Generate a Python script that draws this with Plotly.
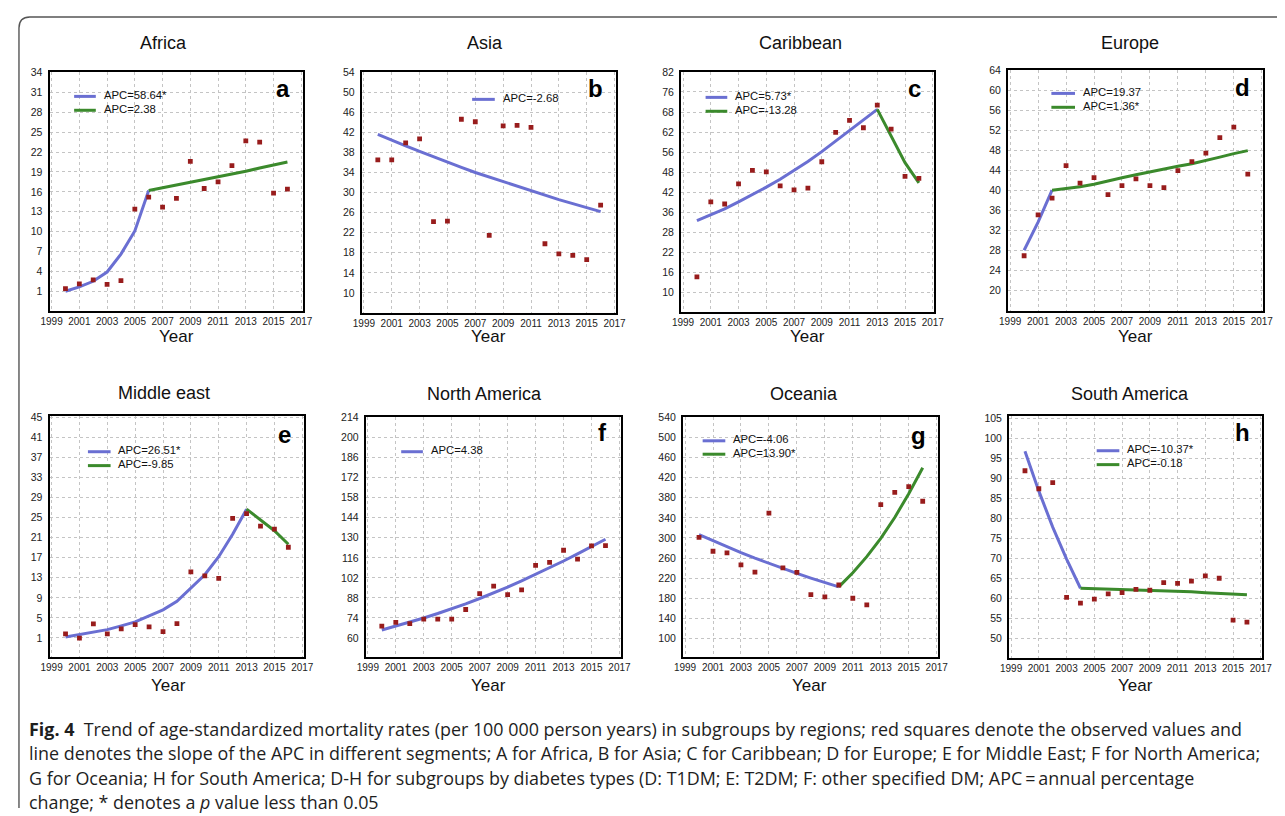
import plotly.graph_objects as go

# ---------------- data ----------------
years = list(range(2000, 2017))
x_ticks = [1999, 2001, 2003, 2005, 2007, 2009, 2011, 2013, 2015, 2017]

titles = ["Africa", "Asia", "Caribbean", "Europe",
          "Middle east", "North America", "Oceania", "South America"]
letters = ["a", "b", "c", "d", "e", "f", "g", "h"]

africa_obs = [1.4, 2.1, 2.7, 2.05, 2.6, 13.4, 15.2, 13.7, 15.0, 20.6, 16.5, 17.5, 19.95, 23.7, 23.5, 15.8, 16.4]
africa_seg1_years = [2000, 2001, 2002, 2003, 2004, 2005, 2006]
africa_seg1 = [1.0, 1.65, 2.5, 3.9, 6.6, 10.1, 16.2]
africa_seg2_years = [2006, 2007, 2008, 2009, 2010, 2011, 2012, 2013, 2014, 2015, 2016]
africa_seg2 = [16.2, 16.6, 17.0, 17.45, 17.85, 18.3, 18.7, 19.1, 19.6, 20.1, 20.5]
africa_apc = ["APC=58.64*", "APC=2.38"]
africa_yticks = [1, 4, 7, 10, 13, 16, 19, 22, 25, 28, 31, 34]

asia_obs = [36.5, 36.5, 39.9, 40.7, 24.2, 24.3, 44.6, 44.1, 21.45, 43.3, 43.4, 43.0, 19.8, 17.8, 17.5, 16.65, 27.5]
asia_seg1_years = years
asia_seg1 = [41.6, 40.4, 39.3, 38.2, 37.1, 36.0, 35.0, 34.0, 33.1, 32.1, 31.2, 30.3, 29.5, 28.6, 27.8, 27.0, 26.2]
asia_apc = ["APC=-2.68"]
asia_yticks = [10, 14, 18, 22, 26, 30, 34, 38, 42, 46, 50, 54]

carib_obs = [15.1, 39.6, 38.9, 45.5, 49.85, 49.4, 44.8, 43.5, 44.1, 52.7, 62.3, 66.2, 63.8, 71.2, 63.35, 47.9, 47.3]
carib_seg1_years = [2000, 2001, 2002, 2003, 2004, 2005, 2006, 2007, 2008, 2009, 2010, 2011, 2012, 2013]
carib_seg1 = [33.5, 35.3, 37.3, 39.6, 41.9, 44.4, 47.0, 49.8, 52.8, 56.0, 59.4, 63.0, 66.4, 69.8]
carib_seg2_years = [2013, 2014, 2015, 2016]
carib_seg2 = [69.8, 61.0, 52.4, 45.8]
carib_apc = ["APC=5.73*", "APC=-13.28"]
carib_ytickvals = [10, 16.55, 23.1, 29.6, 36.2, 42.7, 49.3, 55.8, 62.4, 68.9, 75.5, 82]
carib_yticktext = ["10", "16", "22", "28", "36", "42", "48", "56", "62", "68", "76", "82"]

europe_obs = [26.9, 35.05, 38.4, 44.9, 41.4, 42.5, 39.1, 40.9, 42.25, 40.9, 40.5, 43.9, 45.7, 47.4, 50.5, 52.6, 43.2]
europe_seg1_years = [2000, 2001, 2002]
europe_seg1 = [28.0, 33.6, 40.0]
europe_seg2_years = list(range(2002, 2017))
europe_seg2 = [40.0, 40.3, 40.7, 41.2, 41.9, 42.5, 43.1, 43.7, 44.3, 44.8, 45.3, 45.9, 46.6, 47.3, 47.9]
europe_apc = ["APC=19.37", "APC=1.36*"]
europe_yticks = [20, 24, 28, 32, 36, 40, 44, 48, 52, 56, 60, 64]

mideast_obs = [1.8, 0.95, 3.8, 1.8, 2.8, 3.65, 3.2, 2.25, 3.85, 14.2, 13.4, 12.9, 24.85, 25.8, 23.3, 22.7, 19.1]
mideast_seg1_years = list(range(2000, 2014))
mideast_seg1 = [1.2, 1.65, 2.1, 2.65, 3.4, 4.2, 5.4, 6.6, 8.3, 10.9, 13.6, 17.2, 21.7, 26.7]
mideast_seg2_years = [2013, 2014, 2015, 2016]
mideast_seg2 = [26.7, 24.5, 22.4, 19.7]
mideast_apc = ["APC=26.51*", "APC=-9.85"]
mideast_yticks = [1, 5, 9, 13, 17, 21, 25, 29, 33, 37, 41, 45]

namerica_obs = [68.3, 70.9, 70.0, 73.2, 73.2, 73.2, 79.9, 91.0, 96.3, 90.3, 93.6, 110.7, 112.8, 121.3, 115.1, 124.4, 124.6]
namerica_seg1_years = years
namerica_seg1 = [65.6, 68.3, 71.1, 74.0, 77.1, 80.4, 83.9, 87.6, 91.5, 95.6, 99.9, 104.4, 109.0, 113.8, 118.8, 123.9, 129.0]
namerica_apc = ["APC=4.38"]
namerica_yticks = [60, 74, 88, 102, 116, 130, 144, 158, 172, 186, 200, 214]

oceania_obs = [301.2, 273.5, 270.2, 246.4, 231.9, 349.3, 240.5, 231.3, 187.1, 182.5, 206.2, 179.8, 166.6, 366.5, 390.9, 402.1, 373.1]
oceania_seg1_years = list(range(2000, 2011))
oceania_seg1 = [306.5, 294.1, 282.1, 270.7, 259.7, 249.1, 239.0, 229.3, 220.0, 211.1, 202.5]
oceania_seg2_years = list(range(2010, 2017))
oceania_seg2 = [202.5, 230.6, 262.7, 299.2, 340.8, 388.2, 440.0]
oceania_apc = ["APC=-4.06", "APC=13.90*"]
oceania_yticks = [100, 140, 180, 220, 260, 300, 340, 380, 420, 460, 500, 540]

samerica_obs = [91.9, 87.4, 88.95, 60.2, 58.8, 59.8, 61.1, 61.4, 62.2, 62.0, 63.9, 63.7, 64.3, 65.6, 65.0, 54.5, 54.0]
samerica_seg1_years = [2000, 2001, 2002, 2003, 2004]
samerica_seg1 = [96.8, 86.8, 77.8, 69.8, 62.5]
samerica_seg2_years = list(range(2004, 2017))
samerica_seg2 = [62.5, 62.4, 62.2, 62.1, 62.0, 61.9, 61.8, 61.7, 61.6, 61.4, 61.2, 61.0, 60.9]
samerica_apc = ["APC=-10.37*", "APC=-0.18"]
samerica_yticks = [50, 55, 60, 65, 70, 75, 80, 85, 90, 95, 100, 105]

caption_lines = [
    "<b>Fig. 4</b>  Trend of age-standardized mortality rates (per 100 000 person years) in subgroups by regions; red squares denote the observed values and",
    "line denotes the slope of the APC in different segments; A for Africa, B for Asia; C for Caribbean; D for Europe; E for Middle East; F for North America;",
    "G for Oceania; H for South America; D-H for subgroups by diabetes types (D: T1DM; E: T2DM; F: other specified DM; APC\u2009=\u2009annual percentage",
    "change; * denotes a <i>p</i> value less than 0.05",
]

# ---------------- styling / layout ----------------
# the page body keeps an 8 px margin, so the figure is 8 px smaller and
# every page-pixel position is shifted by that margin
OFF = 8
W, H = 1285 - OFF, 816 - OFF

BLUE = "#6a6fd2"
GREEN = "#3b8a2c"
RED = "#981c1c"
FONT = "Liberation Sans, Arial, sans-serif"

panels = [
    dict(obs=africa_obs, segs=[(africa_seg1_years, africa_seg1), (africa_seg2_years, africa_seg2)],
         apc=africa_apc, yticks=africa_yticks, ytext=None, yrange=[-1.95, 34.15],
         box=(41, 298, 66, 307), leg=(66, 88, 91, 14), letter=(287, 83), title=(157, 37), year=(170, 333)),
    dict(obs=asia_obs, segs=[(asia_seg1_years, asia_seg1)],
         apc=asia_apc, yticks=asia_yticks, ytext=None, yrange=[6.05, 54.1],
         box=(358, 616, 66, 309), leg=(470, 493, 94, 14), letter=(605, 83), title=(483, 37), year=(487, 333)),
    dict(obs=carib_obs, segs=[(carib_seg1_years, carib_seg1), (carib_seg2_years, carib_seg2)],
         apc=carib_apc, yticks=carib_ytickvals, ytext=carib_yticktext, yrange=[3.7, 82.15],
         box=(682, 939, 66, 308), leg=(707, 729, 92, 14), letter=(928, 83), title=(803, 37), year=(810, 333)),
    dict(obs=europe_obs, segs=[(europe_seg1_years, europe_seg1), (europe_seg2_years, europe_seg2)],
         apc=europe_apc, yticks=europe_yticks, ytext=None, yrange=[15.9, 64.1],
         box=(1014, 1273, 64, 307), leg=(1058, 1082, 88, 14), letter=(1262, 82), title=(1138, 37), year=(1143, 333)),
    dict(obs=mideast_obs, segs=[(mideast_seg1_years, mideast_seg1), (mideast_seg2_years, mideast_seg2)],
         apc=mideast_apc, yticks=mideast_yticks, ytext=None, yrange=[-2.85, 45.3],
         box=(41, 299, 413, 656), leg=(80, 103, 449, 14), letter=(288, 432), title=(157, 390), year=(162, 685)),
    dict(obs=namerica_obs, segs=[(namerica_seg1_years, namerica_seg1)],
         apc=namerica_apc, yticks=namerica_yticks, ytext=None, yrange=[46.6, 214.4],
         box=(362, 621, 414, 656), leg=(398, 420, 449, 14), letter=(609, 430), title=(483, 391), year=(487, 685)),
    dict(obs=oceania_obs, segs=[(oceania_seg1_years, oceania_seg1), (oceania_seg2_years, oceania_seg2)],
         apc=oceania_apc, yticks=oceania_yticks, ytext=None, yrange=[62.4, 541],
         box=(684, 943, 414, 656), leg=(704, 727, 438, 13.5), letter=(933, 433), title=(807, 391), year=(812, 685)),
    dict(obs=samerica_obs, segs=[(samerica_seg1_years, samerica_seg1), (samerica_seg2_years, samerica_seg2)],
         apc=samerica_apc, yticks=samerica_yticks, ytext=None, yrange=[45.0, 105.6],
         box=(1015, 1272, 413, 657), leg=(1104, 1127, 448, 14), letter=(1262, 430), title=(1138, 391), year=(1143, 685)),
]


def px(x):
    return (x - OFF) / W


def py(y):
    return 1 - (y - OFF) / H


fig = go.Figure()
layout = dict(
    width=W, height=H, autosize=False,
    margin=dict(l=0, r=0, t=0, b=0),
    paper_bgcolor="white", plot_bgcolor="white",
    showlegend=False,
    font=dict(family=FONT, color="#111"),
)
annotations = []
shapes = []

for i, p in enumerate(panels):
    n = i + 1
    xa = "x" if n == 1 else f"x{n}"
    ya = "y" if n == 1 else f"y{n}"
    x0, x1, y0, y1 = p["box"]
    axis_common = dict(
        showline=True, linecolor="black", linewidth=2, mirror=True,
        showgrid=True, gridcolor="#c4c4c4", griddash="dot", gridwidth=1,
        zeroline=False, fixedrange=True,
    )
    layout["xaxis" if n == 1 else f"xaxis{n}"] = dict(
        axis_common, domain=[px(x0), px(x1)], anchor=ya,
        range=[1998.85, 2017.1], tickmode="array", tickvals=x_ticks,
        ticktext=[str(v) for v in x_ticks], ticks="",
        tickfont=dict(size=10, family=FONT, color="#222"),
    )
    yax = dict(
        axis_common, domain=[py(y1), py(y0)], anchor=xa,
        range=p["yrange"], tickmode="array", tickvals=p["yticks"],
        ticks="outside", ticklen=3, tickcolor="rgba(0,0,0,0)",
        tickfont=dict(size=10.5, family=FONT, color="#222"),
    )
    if p["ytext"] is not None:
        yax["ticktext"] = p["ytext"]
    layout["yaxis" if n == 1 else f"yaxis{n}"] = yax

    colors = [BLUE, GREEN]
    for k, (sx, sy) in enumerate(p["segs"]):
        fig.add_trace(go.Scatter(x=sx, y=sy, mode="lines",
                                 line=dict(color=colors[k], width=3),
                                 xaxis=xa, yaxis=ya, hoverinfo="skip"))
    fig.add_trace(go.Scatter(x=years, y=p["obs"], mode="markers",
                             marker=dict(symbol="square", size=4.8, color=RED),
                             xaxis=xa, yaxis=ya))

    # legend keys
    lx0, lx1, ly, dy = p["leg"]
    for k, label in enumerate(p["apc"]):
        yy = ly + k * dy
        shapes.append(dict(type="line", xref="paper", yref="paper",
                           x0=px(lx0), x1=px(lx1), y0=py(yy), y1=py(yy),
                           line=dict(color=colors[k], width=3)))
        annotations.append(dict(xref="paper", yref="paper", x=px(lx1 + 6), y=py(yy - 1.5),
                                text=label, showarrow=False, xanchor="left", yanchor="middle",
                                font=dict(size=11.3, family=FONT, color="#111")))

    # panel letter
    lx, lyy = p["letter"]
    annotations.append(dict(xref="paper", yref="paper", x=px(lx), y=py(lyy),
                            text=f"<b>{letters[i]}</b>", showarrow=False,
                            xanchor="right", yanchor="middle",
                            font=dict(size=24, family=FONT, color="black")))
    # title
    tx, ty = p["title"]
    annotations.append(dict(xref="paper", yref="paper", x=px(tx), y=py(ty),
                            text=titles[i], showarrow=False, xanchor="center", yanchor="middle",
                            font=dict(size=18, family=FONT, color="#111")))
    # x axis title
    yx, yy2 = p["year"]
    annotations.append(dict(xref="paper", yref="paper", x=px(yx), y=py(yy2),
                            text="Year", showarrow=False, xanchor="center", yanchor="middle",
                            font=dict(size=17, family=FONT, color="#111")))

# caption
cap_y = [728, 753, 778, 802]
for line, cy in zip(caption_lines, cap_y):
    annotations.append(dict(xref="paper", yref="paper", x=px(18), y=py(cy),
                            text=line, showarrow=False, xanchor="left", yanchor="middle",
                            font=dict(size=17.9, family="Open Sans, Noto Sans, sans-serif", color="#1e1e1e")))

# outer rounded frame (open at right and bottom)
frame = (f"M {px(1290)},{py(11)} L {px(21)},{py(11)} "
         f"Q {px(10)},{py(11)} {px(10)},{py(22)} L {px(10)},{py(808)}")
shapes.append(dict(type="path", xref="paper", yref="paper", path=frame,
                   line=dict(color="#555", width=1.4)))

layout["annotations"] = annotations
layout["shapes"] = shapes
fig.update_layout(**layout)

fig.write_html("out.html", config={"displayModeBar": False})
